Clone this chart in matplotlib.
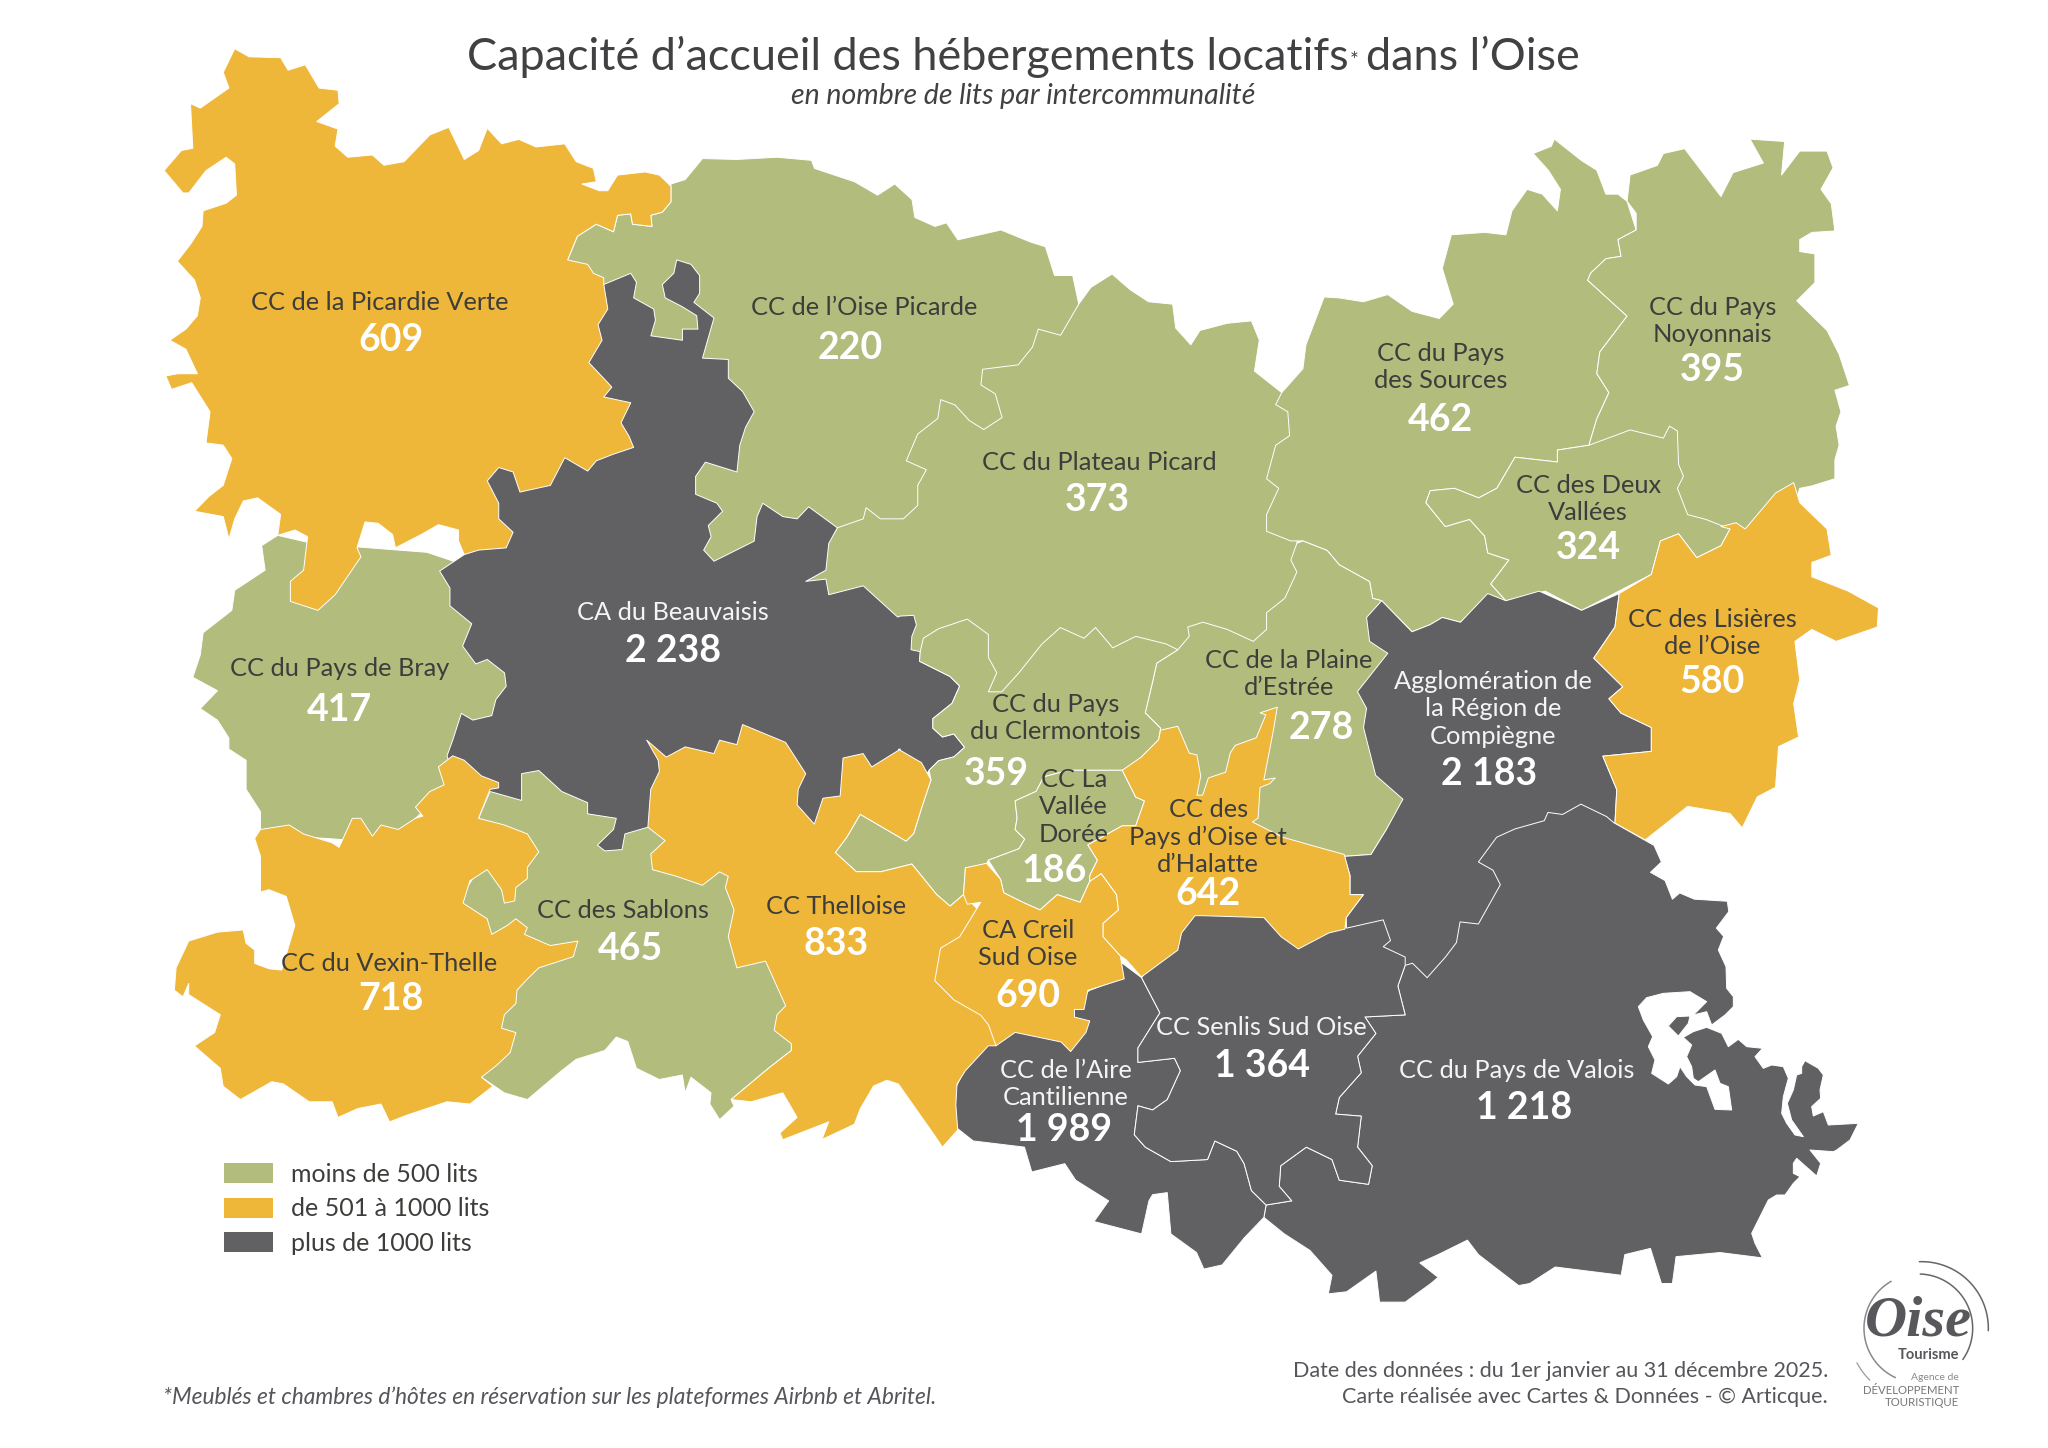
import numpy as np
import matplotlib
matplotlib.use("Agg")
import matplotlib.pyplot as plt
from matplotlib.patches import Polygon, Rectangle

plt.rcParams['font.family'] = ['Lato', 'DejaVu Sans']

# ---------- crop frames in which the outlines were read ----------
def frame(x0, y0, w, h, n=1568):
    return lambda pts: np.array(pts, float) * [w / n, h / n] + [x0, y0]
z1 = frame(140, 30, 900, 700)
z2 = frame(1000, 120, 950, 750)
z3 = frame(160, 700, 900, 700)
z4 = frame(900, 800, 1148, 648)
z5 = frame(820, 600, 600, 600)
z6 = frame(1580, 950, 900, 900, 2700)

# ---------- data ----------
names = ["CC de la Picardie Verte", "CC de l’Oise Picarde", "CC du Plateau Picard", "CC du Pays\ndes Sources",
         "CC du Pays\nNoyonnais", "CC des Deux\nVallées", "CA du Beauvaisis", "CC du Pays de Bray",
         "CC du Pays\ndu Clermontois", "CC La\nVallée\nDorée", "CC de la Plaine\nd’Estrée",
         "Agglomération de\nla Région de\nCompiègne", "CC des Lisières\nde l’Oise",
         "CC des\nPays d’Oise et\nd’Halatte", "CC des Sablons", "CC Thelloise", "CC du Vexin-Thelle",
         "CA Creil\nSud Oise", "CC Senlis Sud Oise", "CC de l’Aire\nCantilienne", "CC du Pays de Valois"]
lits = [609, 220, 373, 462, 395, 324, 2238, 417, 359, 186, 278, 2183, 580, 642, 465, 833, 718, 690, 1364, 1989, 1218]
legend_labels = ["moins de 500 lits", "de 501 à 1000 lits", "plus de 1000 lits"]
class_colors = ["#B1BC7D", "#EFB73A", "#616163"]

picardie = z1([(165,42),(190,60),(245,62),(258,90),(288,78),(312,130),(345,135),(347,165),(308,205),(345,222),(340,260),(362,285),(405,280),(425,303),(460,295),(505,235),(538,218),(565,290),(590,270),(605,220),(630,255),(660,245),(690,262),(740,255),(760,295),(790,310),(795,340),(770,345),(800,360),(815,360),(832,325),(880,318),(905,325),(925,350),(925,385),(910,408),(890,415),(892,440),(858,435),(855,412),(832,415),(825,452),(795,435),(762,462),(745,515),(780,525),(790,545),(808,555),(808,570),(815,625),(798,660),(805,695),(782,745),(815,790),(822,800),(808,822),(855,835),(838,880),(852,910),(860,935),(825,950),(795,965),(780,988),(740,958),(715,1020),(662,1035),(650,990),(625,980),(605,1010),(625,1060),(625,1095),(650,1125),(638,1160),(590,1165),(565,1175),(555,1145),(555,1120),(520,1108),(490,1130),(445,1160),(440,1130),(415,1105),(392,1102),(378,1160),(385,1180),(340,1265),(310,1300),(262,1280),(262,1235),(285,1210),(292,1135),(270,1120),(240,1132),(245,1085),(205,1048),(180,1055),(165,1095),(155,1140),(145,1090),(95,1078),(120,1045),(145,1020),(160,960),(145,930),(115,925),(122,855),(90,790),(55,805),(45,775),(65,770),(100,770),(80,715),(52,695),(80,670),(100,640),(105,600),(95,560),(65,518),(88,480),(108,440),(110,405),(150,388),(168,370),(165,300),(150,285),(115,315),(85,365),(75,365),(42,315),(72,270),(92,265),(88,165),(105,175),(155,130),(145,95)])

oise_picarde = np.vstack([
    z1([(745,515),(762,462),(795,435),(825,452),(832,415),(855,412),(858,435),(892,440),(890,415),(910,408),(925,385),(925,345),(950,335),(980,288),(1040,290),(1110,285),(1170,292),(1175,310),(1245,340),(1285,370),(1315,345),(1345,380),(1350,420),(1385,440),(1405,432),(1425,470),(1500,448)]),
    z2([(50,255),(75,265),(90,325),(120,325),(125,355),(130,385)]),
    z1([(1500,1000),(1300,1200),(1000,1250),(900,1000),(850,700)])])

plateau = np.vstack([
    z2([(130,385),(150,350),(185,322),(215,355),(245,380),(285,385),(290,435),(315,470),(330,440),(375,425),(415,420),(428,460),(420,525),(465,570),(500,600),(500,800),(490,885),(560,1000)]),
    z5([(1100,400),(600,400),(400,300)]),
    z1([(1300,1400),(1150,1250),(1215,1115),(1260,1095),(1265,1070),(1290,1095),(1330,1095),(1355,1065),(1355,1020),(1370,985),(1335,965),(1355,905),(1390,870),(1395,828),(1420,840),(1445,875),(1470,895),(1502,868),(1490,815),(1465,795),(1468,760),(1530,750),(1555,710),(1565,670)]),
    z2([(100,450)])])

sources = z2([(465,570),(500,520),(505,470),(535,370),(560,372),(600,380),(640,365),(680,400),(725,415),(748,385),(730,310),(745,240),(800,235),(835,240),(845,190),(870,145),(895,155),(920,190),(925,145),(905,105),(880,70),(910,55),(915,40),(960,85),(985,105),(1000,155),(1020,155),(1035,170),(1050,230),(1020,250),(1025,285),(1000,290),(975,320),(970,335),(1035,410),(990,485),(985,530),(1005,570),(985,625),(972,680),(920,690),(920,715),(885,710),(850,705),(820,770),(790,790),(750,770),(710,775),(703,800),(735,850),(775,835),(800,870),(805,905),(840,920),(810,970),(835,1005),(805,995),(760,1050),(730,1040),(710,1055),(680,1070),(665,1050),(630,1005),(615,1000),(610,965),(560,930),(540,900),(500,880),(480,880),(440,860),(440,825),(460,770),(440,750),(455,680),(478,660),(475,610),(455,595)])

noyonnais = z2([(1050,230),(1050,195),(1035,170),(1040,115),(1085,95),(1095,70),(1130,60),(1175,135),(1190,160),(1210,110),(1235,100),(1260,90),(1238,40),(1295,45),(1290,115),(1320,65),(1365,65),(1375,100),(1355,145),(1372,175),(1378,232),(1340,235),(1320,250),(1320,275),(1345,280),(1345,340),(1315,378),(1365,440),(1385,490),(1402,555),(1378,565),(1388,610),(1380,640),(1385,680),(1378,710),(1378,750),(1340,765),(1320,770),(1300,850),(1150,880),(972,700),(972,680),(985,625),(1005,570),(985,530),(990,485),(1035,410),(970,335),(975,320),(1000,290),(1025,285),(1020,250)])

deux_vallees = z2([(972,680),(1040,648),(1095,665),(1105,640),(1118,650),(1120,720),(1128,745),(1118,770),(1135,825),(1165,835),(1205,855),(1190,890),(1150,915),(1120,865),(1090,880),(1075,950),(960,1025),(900,985),(835,1005),(810,970),(840,920),(805,905),(800,870),(775,835),(735,850),(703,800),(710,775),(750,770),(790,790),(820,770),(850,705),(885,710),(920,715),(920,690)])

bray = np.vstack([
    z1([(240,1132),(212,1155),(218,1210),(165,1255),(160,1300),(110,1350),(105,1400),(92,1450),(135,1480),(105,1520)]),
    z3([(100,45),(120,85),(120,110),(150,135),(150,200),(175,250),(175,300),(400,320),(540,150),(650,50)]),
    z1([(800,1300),(500,1170),(300,1150)])])

beauvaisis = np.vstack([
    z1([(808,570),(855,545),(865,565),(860,600),(895,625),(898,650),(890,685),(945,695),(945,670),(972,670),(970,640),(945,620),(915,600),(910,570),(930,545),(935,515),(960,525),(975,550),(975,590),(965,610),(1000,645),(980,735),(1025,738),(1025,780),(1050,810),(1070,855),(1055,890),(1045,930),(1040,990),(985,968),(968,1000),(968,1040),(1005,1060),(1015,1078),(990,1110),(995,1135),(982,1165),(1000,1190),(1070,1145),(1075,1090),(1085,1060),(1120,1090),(1145,1095),(1165,1068),(1215,1115),(1200,1150),(1195,1210),(1160,1235),(1195,1230),(1200,1265),(1260,1245),(1320,1315)]),
    z5([(210,42),(245,40),(252,65),(240,95),(238,130),(262,135),(260,160),(340,200),(365,225),(345,270),(295,310),(295,335),(320,358),(350,350),(378,385),(350,410),(310,420),(285,445),(270,470)]),
    z3([(1100,300),(900,250),(800,400),(600,300),(520,200),(500,125),(510,90),(525,30),(545,45),(578,35)]),
    z1([(620,1500),(638,1470),(635,1440),(605,1410),(585,1420),(562,1380),(578,1330),(540,1290),(540,1250),(522,1212),(565,1175),(575,950),(700,800)])])

vexin = z3([(175,290),(225,280),(250,300),(300,320),(312,330),(335,265),(350,265),(370,305),(385,280),(415,290),(445,265),(458,260),(445,240),(470,205),(495,190),(485,150),(510,125),(530,135),(560,170),(590,185),(590,197),(575,200),(555,265),(600,280),(640,300),(660,340),(640,375),(640,400),(620,420),(618,450),(600,455),(595,425),(570,380),(540,405),(528,455),(570,490),(578,525),(605,505),(620,490),(640,510),(635,525),(680,550),(728,540),(720,575),(660,600),(640,625),(622,650),(620,680),(600,705),(595,735),(620,745),(610,790),(585,820),(560,845),(580,865),(540,905),(500,900),(430,930),(400,945),(385,905),(345,915),(310,935),(300,900),(260,900),(215,860),(195,855),(140,895),(110,865),(105,825),(60,775),(95,745),(105,705),(50,660),(50,635),(40,665),(25,650),(28,600),(50,540),(100,520),(145,515),(150,545),(165,560),(165,590),(190,602),(212,605),(235,505),(220,440),(190,425),(175,430),(175,350),(165,310)])

sablons = z3([(555,265),(575,205),(630,225),(630,165),(660,158),(700,205),(745,230),(745,255),(795,265),(790,290),(762,325),(775,338),(805,335),(810,300),(850,285),(950,300),(1100,600),(1100,785),(1060,825),(995,895),(1000,910),(975,940),(958,905),(960,880),(925,845),(915,880),(910,840),(870,850),(830,825),(815,765),(795,755),(775,785),(725,805),(700,830),(640,895),(600,880),(560,845),(590,700),(650,600),(600,560),(540,500),(520,450),(560,370),(620,350)])

thelloise = np.vstack([
    z3([(848,90),(882,128),(915,105),(965,120),(975,90),(1005,100),(1015,55),(1090,95),(1125,165),(1112,200),(1110,235),(1140,278),(1155,220),(1185,215),(1190,130),(1225,120),(1240,150),(1290,110)]),
    z5([(205,390),(265,425),(290,470),(265,545),(245,610),(225,630),(105,560),(70,620),(40,660),(95,710),(160,710),(240,690),(305,770),(340,800),(375,770),(500,900),(460,1165),(440,1165),(380,1230),(358,1265),(355,1320),(360,1385),(320,1430),(300,1400),(205,1265),(175,1255),(140,1270),(105,1330),(90,1370),(5,1410)]),
    z3([(1165,945),(1085,985),(1080,970),(1110,935),(1085,880),(1030,900),(995,895),(1060,825),(1100,785),(1100,770),(1070,740),(1075,705),(1090,685),(1055,585),(1005,600),(990,530),(1000,470),(985,420),(990,395),(975,385),(945,415),(900,395),(858,380),(855,345),(880,315),(850,285),(855,200),(870,160),(868,135)])])

clermontois = z5([(262,135),(270,100),(310,75),(385,50),(440,90),(440,150),(462,190),(440,240),(475,240),(520,190),(580,115),(628,72),(690,100),(720,72),(765,125),(825,95),(905,115),(935,130),(880,165),(870,210),(850,295),(890,335),(885,365),(840,410),(825,440),(790,445),(720,445),(650,445),(585,462),(565,500),(510,525),(515,570),(510,600),(535,625),(520,650),(440,680),(435,690),(380,700),(375,770),(340,800),(305,770),(240,690),(160,710),(95,710),(40,660),(70,620),(105,560),(225,630),(245,610),(265,545),(290,470),(285,445),(310,420),(350,410),(378,385),(350,350),(320,358),(295,335),(295,310),(345,270),(365,225),(340,200),(260,160)])

vallee = z5([(585,462),(650,445),(790,445),(825,515),(848,525),(825,590),(790,590),(700,640),(725,680),(705,720),(705,735),(680,790),(620,770),(575,810),(530,790),(480,765),(472,730),(440,680),(520,650),(535,625),(510,600),(515,570),(510,525),(565,500)])

estree = np.vstack([
    z2([(490,885),(480,920),(490,945),(470,1000),(440,1030),(440,1065),(418,1090),(375,1065),(335,1050),(310,1060)]),
    z5([(965,95),(935,130),(880,165),(870,210),(850,295),(890,335),(850,400),(1100,600),(1370,670),(1440,665),(1480,600),(1530,520),(1500,100)]),
    z2([(630,1005),(615,1000),(610,965),(560,930),(540,900),(500,880)])])

compiegne = np.vstack([
    z2([(630,1005),(680,1070),(710,1055),(730,1040),(760,1050),(805,990),(835,1005),(890,985),(960,1025),(1022,990),(1015,1060),(980,1125),(1028,1185),(1005,1210),(1025,1240),(1075,1270),(1075,1320),(995,1330),(1018,1400),(1015,1470),(1065,1505)]),
    z4([(1000,300),(760,480),(640,420),(610,320)]),
    z5([(1375,830),(1420,770),(1385,770),(1385,720),(1370,670),(1440,665),(1480,600)]),
    z2([(665,1420),(620,1370),(600,1270),(605,1230),(590,1195),(640,1115),(610,1090),(605,1040)])])

lisieres = z2([(1310,758),(1320,800),(1365,855),(1372,910),(1340,925),(1340,955),(1400,985),(1450,1020),(1448,1060),(1380,1090),(1340,1065),(1312,1090),(1320,1170),(1310,1220),(1318,1290),(1285,1310),(1280,1395),(1250,1415),(1225,1480),(1205,1450),(1135,1435),(1065,1505),(1015,1470),(1018,1400),(995,1330),(1075,1320),(1075,1270),(1025,1240),(1005,1210),(1028,1185),(980,1125),(1015,1060),(1022,990),(1075,950),(1090,880),(1120,865),(1150,915),(1190,890),(1205,855),(1190,850),(1215,842),(1230,855),(1280,780)])

valois = np.vstack([
    z4([(1020,100),(975,55),(965,40),(930,10),(905,35),(885,30),(880,50),(840,70),(815,90),(790,150),(810,170),(820,205),(790,300),(765,295),(760,345),(745,380),(720,430),(700,395),(690,400),(680,450),(690,520),(635,525),(650,565),(625,620),(630,660),(600,720),(595,760),(630,765),(625,840),(645,885),(640,930),(600,920),(590,870),(555,840),(520,885),(518,935),(535,970),(500,980),(497,1010),(525,1050),(560,1090),(590,1150),(585,1195),(610,1190),(650,1140),(655,1215),(690,1215),(725,1170),(735,1155),(710,1120),(735,1100),(775,1065),(790,1100),(845,1175),(860,1170),(895,1130),(985,1150),(990,1100),(1025,1085),(1040,1170),(1055,1170),(1060,1105),(1120,1095),(1178,1108)]),
    z6([(525,880),(515,850),(545,790),(565,750),(590,735),(615,735),(640,700),(660,680),(640,670),(640,640),(650,625),(710,678),(722,640),(690,600),(760,605),(770,600),(810,570),(835,520),(745,525),(730,485),(700,498),(695,470),(722,445),(720,420),(730,375),(715,355),(675,332),(665,350),(665,370),(650,375),(640,420),(622,460),(635,510),(670,560),(645,555),(620,520),(605,490),(610,440),(625,385),(610,350),(575,345),(550,355),(525,320),(548,295),(500,290),(475,268),(445,290),(425,250),(380,232),(340,245),(310,262),(335,285),(320,320),(335,350),(340,385),(355,395),(405,360),(420,400),(445,410),(455,480),(405,478),(380,410),(345,405),(320,380),(300,350),(290,380),(265,402),(215,370),(225,330),(205,290),(218,260),(190,210),(175,170),(200,143),(250,130),(330,125),(380,155),(340,195),(380,185),(395,225),(435,195),(460,170),(460,140),(440,115),(438,50),(415,0)]),
    z4([(1125,330),(1115,310),(1132,270),(1130,245),(1085,240),(1065,225),(1055,240),(1045,195),(1025,175),(1040,150),(1030,110)])])
valois_islet = z6([(265,228),(290,200),(330,198),(325,220),(295,258)])

senlis = z4([(330,430),(400,250),(590,260),(610,310),(660,290),(670,340),(660,355),(690,380),(690,400),(680,450),(690,520),(635,525),(650,565),(625,620),(630,660),(600,720),(595,760),(630,765),(625,840),(645,885),(640,930),(600,920),(590,870),(555,840),(520,885),(518,935),(535,970),(500,980),(480,945),(470,880),(460,850),(430,825),(420,870),(370,875),(335,840),(320,810),(325,740),(345,750),(365,725),(383,655),(375,625),(325,635),(325,600),(355,515)])

aire = z4([(300,390),(330,430),(355,515),(325,600),(325,635),(375,625),(383,655),(365,725),(345,750),(325,740),(320,810),(335,840),(370,875),(420,870),(430,825),(460,850),(470,880),(480,945),(500,980),(497,1010),(470,1060),(440,1125),(415,1135),(405,1095),(370,1050),(365,950),(345,955),(340,970),(330,1050),(265,1020),(285,970),(240,920),(225,880),(180,900),(170,840),(100,825),(75,790),(75,700),(100,610),(150,480),(240,480),(260,460),(305,430)])

creil = z5([(380,700),(435,688),(472,730),(480,765),(530,790),(575,810),(620,770),(680,790),(705,735),(735,715),(775,770),(780,810),(740,845),(740,880),(785,930),(795,990),(700,1020),(690,1070),(665,1070),(665,1090),(705,1100),(695,1130),(655,1180),(630,1155),(510,1130),(460,1165),(440,1110),(420,1085),(350,1045),(320,1015),(300,995),(315,910),(365,880),(420,790),(385,795),(375,770)])

pays_oise = z5([(790,445),(840,410),(885,365),(890,340),(935,330),(965,400),(985,405),(995,460),(985,510),(1000,510),(1015,465),(1060,450),(1072,400),(1085,380),(1140,360),(1165,300),(1150,295),(1195,280),(1185,340),(1160,470),(1190,465),(1175,480),(1150,490),(1145,570),(1130,580),(1210,620),(1280,640),(1370,665),(1385,720),(1385,770),(1420,770),(1375,830),(1372,860),(1330,870),(1250,912),(1205,880),(1160,830),(1000,825),(980,825),(945,870),(935,915),(840,985),(800,940),(785,930),(740,880),(740,845),(780,810),(775,770),(735,715),(705,735),(705,720),(725,680),(700,640),(790,590),(825,590),(848,525),(825,515)])

# painter's order: (outline, index into names/lits)
layers = [(oise_picarde,1),(plateau,2),(sources,3),(noyonnais,4),(deux_vallees,5),(bray,7),(beauvaisis,6),
          (picardie,0),(sablons,14),(vexin,16),(estree,10),(compiegne,11),(lisieres,12),(valois,20),(valois_islet,20),
          (aire,19),(senlis,18),(clermontois,8),(thelloise,15),(vallee,9),(creil,17),(pays_oise,13)]

# label anchors in the 1568-wide view: name block centre, value centre
S = 2048 / 1568
anchors = [((291,231),(299,259)),((662,235),(651,265)),((842,353),(840,381)),((1103,280),(1103,320)),
           ((1311,245),(1311,282)),((1216,381),(1216,418)),((515,468),(515,497)),((260,511),(260,542)),
           ((808,549),(763,591)),((822,617),(807,665)),((987,515),(1012,556)),((1143,542),(1140,591)),
           ((1311,484),(1311,521)),((925,640),(925,683)),((477,696),(483,725)),((640,693),(640,721)),
           ((298,737),(299,763)),((787,722),(787,761)),((966,786),(966,815)),((816,829),(815,864)),((1161,819),(1167,847))]

def klass(v):
    return 0 if v < 500 else (1 if v <= 1000 else 2)

def fmt(v):
    return f"{v:,}".replace(",", " ")

fig = plt.figure(figsize=(20.48, 14.48), dpi=100)
ax = fig.add_axes([0, 0, 1, 1])
ax.set_xlim(0, 2048); ax.set_ylim(1448, 0); ax.axis("off")

for outline, i in layers:
    ax.add_patch(Polygon(outline, closed=True, facecolor=class_colors[klass(lits[i])],
                         edgecolor="white", linewidth=0.7, joinstyle="round"))

dark_text = "#3d3d3b"
for i, (n, (a, b)) in enumerate(zip(names, anchors)):
    c = "#f4f4f4" if klass(lits[i]) == 2 else dark_text
    ax.text(a[0]*S, a[1]*S + 1, n, ha="center", va="center", fontsize=18.3, color=c, linespacing=1.22)
    ax.text(b[0]*S, b[1]*S + 2, fmt(lits[i]), ha="center", va="center", fontsize=27, color="white", fontweight="bold")

# title, with its small asterisk
r = fig.canvas.get_renderer()
t1 = ax.text(467, 57, "Capacité d’accueil des hébergements locatifs", ha="left", va="center",
             fontsize=32.4, color="#414143")
bb = t1.get_window_extent(r)
t2 = ax.text(bb.x1 + 1, 61, "*", ha="left", va="center", fontsize=15, color="#414143")
bb2 = t2.get_window_extent(r)
ax.text(bb2.x1 + 8, 57, "dans l’Oise", ha="left", va="center", fontsize=32.4, color="#414143")
ax.text(1023, 96, "en nombre de lits par intercommunalité", ha="center", va="center", fontsize=20.5,
        style="italic", color="#414143")

# legend
for k, (lab, col) in enumerate(zip(legend_labels, class_colors)):
    y = 1173 + k * 34.7
    ax.add_patch(Rectangle((224, y - 10), 49, 20, facecolor=col, edgecolor="none"))
    ax.text(291, y + 1, lab, ha="left", va="center", fontsize=18, color=dark_text)

# notes
ax.text(163, 1397, "*Meublés et chambres d’hôtes en réservation sur les plateformes Airbnb et Abritel.",
        ha="left", va="center", fontsize=16.4, style="italic", color="#55555a")
ax.text(1828, 1371, "Date des données : du 1er janvier au 31 décembre 2025.", ha="right", va="center", fontsize=15.5, color="#55555a")
ax.text(1828, 1397, "Carte réalisée avec Cartes & Données - © Articque.", ha="right", va="center", fontsize=15.5, color="#55555a")

# logo
def arc(cx, cy, rad, a0, a1, col, lw):
    th = np.radians(np.linspace(a0, a1, 80))
    ax.plot(1840 + (cx + rad*np.cos(th))/3, 1250 + (cy + rad*np.sin(th))/3, color=col, lw=lw, solid_capstyle="round")
arc(245, 235, 200, -92, 2, "#66666a", 1.1)
arc(235, 235, 163, -88, 35, "#66666a", 1.1)
arc(235, 235, 163, 115, 240, "#8a8a8e", 1.1)
arc(245, 235, 220, 135, 152, "#9a9a9e", 0.9)
ax.text(1918, 1322, "Oise", ha="center", va="center", fontsize=42, family=["Liberation Serif"], style="italic",
        fontweight="bold", color="#58585c")
ax.text(1959, 1355, "Tourisme", ha="right", va="center", fontsize=10.5, fontweight="bold", color="#58585c")
ax.text(1959, 1378, "Agence de", ha="right", va="center", fontsize=7.5, color="#8a8a8e")
ax.text(1959, 1390, "DÉVELOPPEMENT", ha="right", va="center", fontsize=8.2, color="#77777b")
ax.text(1959, 1403, "TOURISTIQUE", ha="right", va="center", fontsize=8.2, color="#77777b")

fig.savefig("out.png", dpi=100, facecolor="white")
